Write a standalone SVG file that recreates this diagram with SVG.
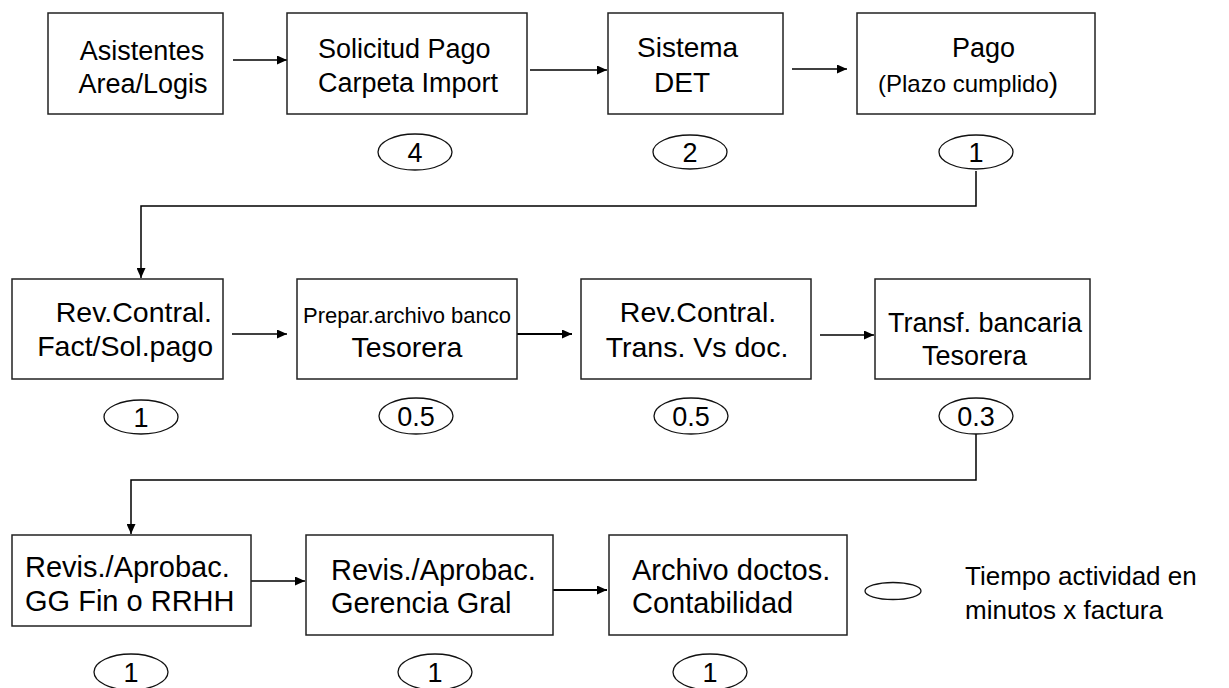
<svg xmlns="http://www.w3.org/2000/svg" width="1229" height="688" viewBox="0 0 1229 688">
<defs>
<marker id="ah" markerUnits="userSpaceOnUse" markerWidth="11" markerHeight="9" refX="10" refY="4.5" orient="auto">
<path d="M0,0 L10,4.5 L0,9 z" fill="#000"/>
</marker>
<style>
.box{fill:#fff;stroke:#222;stroke-width:1.5}
.ell{fill:#fff;stroke:#111;stroke-width:1.3}
.t{font-family:"Liberation Sans",Arial,sans-serif;font-size:28.5px;fill:#000}
.r1{font-size:27px}
.r3{font-size:29px}
.s{font-size:22px}
.d{font-family:"Liberation Sans",Arial,sans-serif;font-size:27px;fill:#000;text-anchor:middle}
.c{fill:none;stroke:#000;stroke-width:1.5;marker-end:url(#ah)}
</style>
</defs>
<rect width="1229" height="688" fill="#fff"/>

<g id="connectors">
<path class="c" d="M233,60 H287"/>
<path class="c" d="M530,70 H607"/>
<path class="c" d="M792,69 H847"/>
<path class="c" d="M976,171 V206 H141 V278"/>
<path class="c" d="M232,334 H287"/>
<path class="c" d="M517,334 H572" style="stroke-width:2"/>
<path class="c" d="M820,335 H874"/>
<path class="c" d="M976,434 V480 H131 V534"/>
<path class="c" d="M251,581 H305"/>
<path class="c" d="M553,590 H607" style="stroke-width:2"/>
</g>

<g id="n1">
<rect class="box" x="48" y="13" width="175" height="101"/>
<text class="t r1" x="142" y="60" text-anchor="middle">Asistentes</text>
<text class="t r1" x="143" y="93" text-anchor="middle">Area/Logis</text>
</g>
<g id="n2">
<rect class="box" x="287" y="13" width="240" height="101"/>
<text class="t r1" x="318" y="58">Solicitud Pago</text>
<text class="t r1" x="318" y="92">Carpeta Import</text>
</g>
<g id="n3">
<rect class="box" x="608" y="13" width="175" height="101"/>
<text class="t" x="637" y="57" style="font-size:28px">Sistema</text>
<text class="t" x="654" y="92" style="font-size:28px">DET</text>
</g>
<g id="n4">
<rect class="box" x="857" y="13" width="238" height="101"/>
<text class="t r1" x="952" y="57">Pago</text>
<text class="t" x="878" y="92" style="font-size:24px">(Plazo cumplido<tspan style="font-size:28px">)</tspan></text>
</g>

<g id="e1"><ellipse class="ell" cx="415" cy="152" rx="37" ry="18"/><text class="d" x="415" y="162">4</text></g>
<g id="e2"><ellipse class="ell" cx="690" cy="152" rx="37" ry="17"/><text class="d" x="690" y="162">2</text></g>
<g id="e3"><ellipse class="ell" cx="976" cy="152" rx="37" ry="17"/><text class="d" x="976" y="162">1</text></g>

<g id="n5">
<rect class="box" x="12" y="279" width="211" height="100"/>
<text class="t" x="212" y="322" text-anchor="end">Rev.Contral.</text>
<text class="t" x="213" y="356" text-anchor="end">Fact/Sol.pago</text>
</g>
<g id="n6">
<rect class="box" x="297" y="279" width="220" height="100"/>
<text class="t s" x="407" y="323" text-anchor="middle">Prepar.archivo banco</text>
<text class="t" x="407" y="357" text-anchor="middle">Tesorera</text>
</g>
<g id="n7">
<rect class="box" x="581" y="279" width="230" height="100"/>
<text class="t" x="698" y="322" text-anchor="middle">Rev.Contral.</text>
<text class="t" x="697" y="357" text-anchor="middle">Trans. Vs doc.</text>
</g>
<g id="n8">
<rect class="box" x="875" y="279" width="215" height="100"/>
<text class="t r1" x="888" y="332">Transf. bancaria</text>
<text class="t r1" x="922" y="365">Tesorera</text>
</g>

<g id="e4"><ellipse class="ell" cx="141" cy="417" rx="37" ry="17"/><text class="d" x="141" y="427">1</text></g>
<g id="e5"><ellipse class="ell" cx="416" cy="416" rx="37" ry="18"/><text class="d" x="416" y="426">0.5</text></g>
<g id="e6"><ellipse class="ell" cx="691" cy="416" rx="37" ry="18"/><text class="d" x="691" y="426">0.5</text></g>
<g id="e7"><ellipse class="ell" cx="976" cy="416" rx="37" ry="18"/><text class="d" x="976" y="426">0.3</text></g>

<g id="n9">
<rect class="box" x="12" y="535" width="239" height="91"/>
<text class="t r3" x="25" y="577">Revis./Aprobac.</text>
<text class="t r3" x="25" y="611">GG Fin o RRHH</text>
</g>
<g id="n10">
<rect class="box" x="306" y="535" width="247" height="100"/>
<text class="t r3" x="331" y="580">Revis./Aprobac.</text>
<text class="t r3" x="331" y="613">Gerencia Gral</text>
</g>
<g id="n11">
<rect class="box" x="609" y="535" width="238" height="100"/>
<text class="t r3" x="632" y="580">Archivo doctos.</text>
<text class="t r3" x="632" y="613">Contabilidad</text>
</g>

<g id="e8"><ellipse class="ell" cx="131" cy="672" rx="37" ry="18"/><text class="d" x="131" y="682">1</text></g>
<g id="e9"><ellipse class="ell" cx="435" cy="672" rx="37" ry="18"/><text class="d" x="435" y="682">1</text></g>
<g id="e10"><ellipse class="ell" cx="710" cy="672" rx="37" ry="18"/><text class="d" x="710" y="682">1</text></g>

<g id="legend">
<ellipse class="ell" cx="893" cy="591" rx="28" ry="8.5"/>
<text class="t" x="965" y="585" style="font-size:26px">Tiempo actividad en</text>
<text class="t" x="965" y="619" style="font-size:26px">minutos x factura</text>
</g>
</svg>
